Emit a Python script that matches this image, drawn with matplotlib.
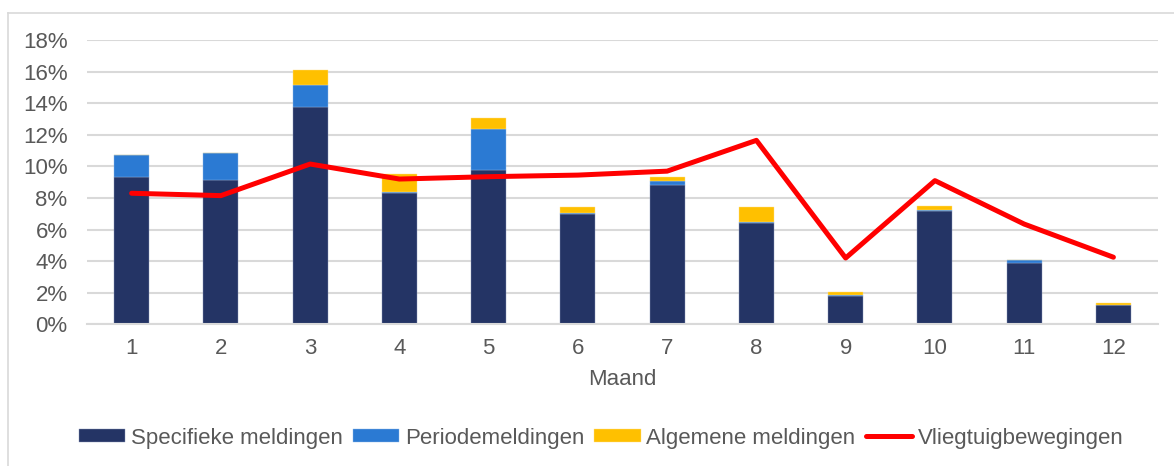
import matplotlib
matplotlib.use("Agg")
import matplotlib.pyplot as plt
import numpy as np
from matplotlib.lines import Line2D

months = ["1", "2", "3", "4", "5", "6", "7", "8", "9", "10", "11", "12"]
specifiek = [9.3, 9.15, 13.75, 8.3, 9.75, 6.98, 8.85, 6.4, 1.82, 7.2, 3.9, 1.22]
periode = [1.4, 1.7, 1.4, 0.08, 2.6, 0.1, 0.22, 0.1, 0.02, 0.03, 0.17, 0.02]
algemeen = [0.0, 0.0, 0.95, 1.17, 0.7, 0.38, 0.25, 0.95, 0.21, 0.25, 0.0, 0.12]
vliegtuig = [8.3, 8.15, 10.15, 9.2, 9.35, 9.45, 9.7, 11.65, 4.2, 9.1, 6.35, 4.25]

c_spec = "#243465"
c_per = "#2B7AD3"
c_alg = "#FFC000"
c_line = "#FF0000"
txt = "#595959"

plt.rcParams["font.family"] = ["Liberation Sans", "DejaVu Sans"]

fig = plt.figure(figsize=(11.74, 4.66), dpi=100)
ax = fig.add_axes([0.0741, 0.304, 0.9123, 0.610])

x = np.arange(len(months))
w = 0.39
spec = np.array(specifiek)
per = np.array(periode)
alg = np.array(algemeen)
ax.bar(x, spec, w, color=c_spec, edgecolor="#8A96B8", linewidth=0.3, zorder=2,
       label="Specifieke meldingen")
ax.bar(x, per, w, bottom=spec, color=c_per, edgecolor="#8FB8E8", linewidth=0.3, zorder=2,
       label="Periodemeldingen")
ax.bar(x, alg, w, bottom=spec + per, color=c_alg, edgecolor="#FFE08A", linewidth=0.3, zorder=2,
       label="Algemene meldingen")
ax.plot(x, vliegtuig, color=c_line, linewidth=3.6, solid_capstyle="round",
        solid_joinstyle="round", zorder=3, label="Vliegtuigbewegingen")

ax.set_xlim(-0.5, len(months) - 0.5)
ax.set_ylim(0, 18)
yt = np.arange(0, 19, 2)
ax.set_yticks(yt)
ax.set_yticklabels([f"{v}%" for v in yt])
ax.set_xticks(x)
ax.set_xticklabels(months)
ax.tick_params(axis="both", length=0, labelsize=16, colors=txt)
ax.tick_params(axis="y", pad=14)
ax.tick_params(axis="x", pad=10)
ax.grid(axis="y", color="#D9D9D9", linewidth=1.5, zorder=0)
ax.set_axisbelow(True)
for s in ["top", "right", "left"]:
    ax.spines[s].set_visible(False)
ax.spines["bottom"].set_color("#D9D9D9")
ax.spines["bottom"].set_linewidth(1.5)
ax.set_xlabel("Maand", fontsize=16, color=txt, labelpad=7)

handles, labels = ax.get_legend_handles_labels()
order = [1, 2, 3, 0]
h = [handles[i] for i in order]
l = [labels[i] for i in order]
leg = fig.legend(h, l, loc="center", bbox_to_anchor=(0.512, 0.06), ncol=4, frameon=False,
                 fontsize=16, handlelength=2.1, handleheight=0.55, handletextpad=0.25,
                 columnspacing=0.45, labelcolor=txt)

# chart frame (left and top border)
fig.add_artist(Line2D([7.5 / 1174, 7.5 / 1174], [0, 1 - 13 / 466], transform=fig.transFigure,
                      color="#D9D9D9", linewidth=1.2))
fig.add_artist(Line2D([7.5 / 1174, 1], [1 - 13 / 466, 1 - 13 / 466], transform=fig.transFigure,
                      color="#D9D9D9", linewidth=1.2))

fig.savefig("out.png", dpi=100)
